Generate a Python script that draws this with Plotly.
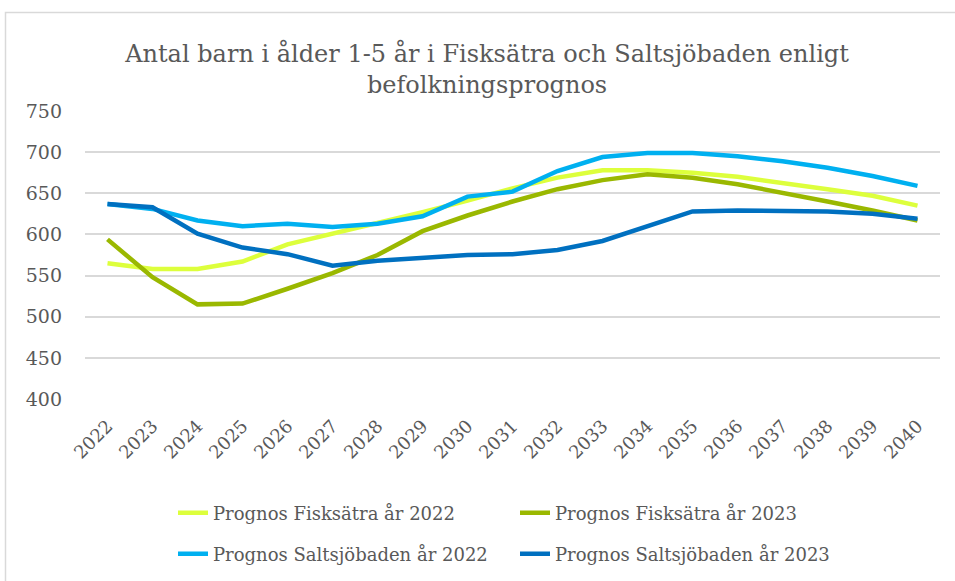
import plotly.graph_objects as go

years = [str(y) for y in range(2022, 2041)]

fisksatra_2022 = [565, 558, 558, 567, 588, 601, 613, 627, 641, 656, 669, 678, 678, 675, 670, 663, 655, 647, 635]
fisksatra_2023 = [594, 548, 515, 516, 534, 553, 575, 604, 623, 640, 655, 666, 673, 669, 661, 651, 640, 629, 617]
saltsjobaden_2022 = [637, 631, 617, 610, 613, 609, 613, 622, 646, 652, 677, 694, 699, 699, 695, 689, 681, 671, 659]
saltsjobaden_2023 = [637, 633, 601, 584, 576, 562, 568, 572, 575, 576, 581, 592, 610, 628, 629, 629, 628, 625, 619]

names = [
    "Prognos Fisksätra år 2022",
    "Prognos Fisksätra år 2023",
    "Prognos Saltsjöbaden år 2022",
    "Prognos Saltsjöbaden år 2023",
]
colors = ["#DDFF3C", "#9AB800", "#00B0F0", "#0070C0"]
series = [fisksatra_2022, fisksatra_2023, saltsjobaden_2022, saltsjobaden_2023]
legends = ["legend", "legend", "legend2", "legend2"]

y_ticks = [400, 450, 500, 550, 600, 650, 700, 750]

FONT = "DejaVu Serif, serif"
GRAY = "#595959"

fig = go.Figure()
for name, col, vals, lg in zip(names, colors, series, legends):
    fig.add_trace(go.Scatter(
        x=years, y=vals, mode="lines", name=name,
        line=dict(color=col, width=4.5),
        legend=lg,
    ))

W, H = 955, 581
L, R, T, B = 85, 15, 111, 182
pw, ph = W - L - R, H - T - B

def px_x(p):
    return (p - L) / pw

def px_y(p):
    return (H - B - p) / ph

legend_common = dict(
    orientation="h",
    font=dict(family=FONT, size=18, color=GRAY),
    bgcolor="rgba(0,0,0,0)",
    entrywidth=297,
    entrywidthmode="pixels",
    xanchor="left",
    yanchor="middle",
    itemwidth=30,
)

fig.update_layout(
    width=W, height=H,
    margin=dict(l=L, r=R, t=T, b=B, autoexpand=False),
    paper_bgcolor="white",
    plot_bgcolor="white",
    title=dict(
        text="Antal barn i ålder 1-5 år i Fisksätra och Saltsjöbaden enligt<br>befolkningsprognos",
        font=dict(family=FONT, size=24, color=GRAY),
        x=0.51, xanchor="center",
        y=1 - 62 / H, yanchor="top", yref="container",
    ),
    xaxis=dict(
        type="category",
        categoryorder="array",
        categoryarray=years,
        range=[-0.5, len(years) - 0.5],
        showgrid=False,
        showline=False,
        ticks="",
        tickangle=-45,
        tickfont=dict(family=FONT, size=18, color=GRAY),
        ticklabelstandoff=12,
        automargin=False,
    ),
    yaxis=dict(
        range=[400, 750],
        tickvals=y_ticks,
        showgrid=True,
        gridcolor="#D9D9D9",
        gridwidth=1.5,
        zeroline=False,
        showline=False,
        ticks="",
        tickfont=dict(family=FONT, size=19, color=GRAY),
        ticklabelstandoff=22,
        automargin=False,
    ),
    legend=dict(x=px_x(173), y=px_y(513), **legend_common),
    legend2=dict(x=px_x(173), y=px_y(554), **legend_common),
    shapes=[dict(
        type="rect", xref="paper", yref="paper",
        x0=px_x(5.5), x1=px_x(970), y0=px_y(600), y1=px_y(12.5),
        line=dict(color="#D9D9D9", width=1.5),
        fillcolor="rgba(0,0,0,0)", layer="below",
    )],
)

fig.write_html(
    "out.html",
    config={"displayModeBar": False},
    post_script="document.body.style.margin='0';",
)
